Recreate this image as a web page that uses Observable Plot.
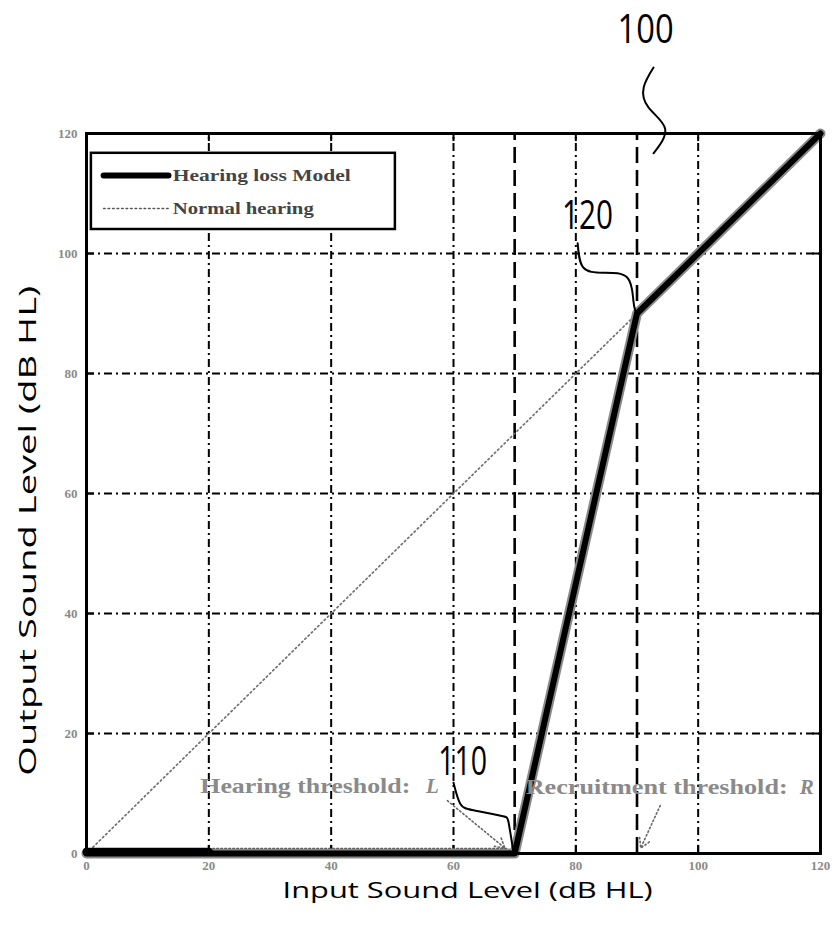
<!DOCTYPE html>
<html>
<head>
<meta charset="utf-8">
<script src="https://cdn.jsdelivr.net/npm/d3@7"></script>
<script src="https://cdn.jsdelivr.net/npm/@observablehq/plot@0.6"></script>
<style>
  html, body { margin: 0; padding: 0; background: white; }
  #chart svg { display: block; }
  #chart g[aria-label="x-axis tick label"] text,
  #chart g[aria-label="y-axis tick label"] text {
    fill: #8a8a8a; font-family: "Liberation Serif", serif; font-weight: bold; font-size: 13px;
  }
</style>
</head>
<body>
<div id="chart"></div>
<script>
// ---- data ----
const xTicks = [0, 20, 40, 60, 80, 100, 120];
const yTicks = [0, 20, 40, 60, 80, 100, 120];
const gridX = [20, 40, 60, 80, 100];
const gridY = [20, 40, 60, 80, 100];
const thresholds = [70, 90];               // L and R

const lossX = [0, 70, 90, 120];            // Hearing loss Model
const lossY = [0, 0, 90, 120];
const normalX = [0, 120];                  // Normal hearing
const normalY = [0, 120];
const floorDotX = [20, 69];                // dotted trace above the floor
const floorDotY = [0.85, 0.85];
const floorThickX = [0, 20];
const floorThickY = [0.3, 0.3];

// leader curves of the reference numerals
const lead100X = [92.7, 91.1, 91.9, 94.6, 92.7];
const lead100Y = [131.0, 127.7, 124.3, 120.8, 116.7];
const lead120X = [80.3, 81.2, 84.5, 88.4, 89.4, 89.8];
const lead120Y = [101.7, 97.7, 96.8, 96.0, 92.2, 90.2];
const lead110X = [60.0, 61.1, 63.3, 67.7, 69.0, 69.8];
const lead110Y = [11.8, 8.3, 7.2, 6.3, 5.2, 0.2];

// threshold annotation arrows
const arrowNames = ["L", "R"];
const arrowX1 = [59.0, 93.8];
const arrowY1 = [8.8, 8.0];
const arrowX2 = [68.4, 90.6];
const arrowY2 = [0.9, 0.9];

// numerals
const numText = ["100", "120", "110"];
const numX = [91.4, 81.9, 61.5];
const numY = [137.2, 106.3, 15.3];

// threshold texts
const thrText = ["Hearing threshold:", "Recruitment threshold:"];
const thrX = [18.6, 71.8];
const thrY = [11.2, 11.0];
const thrVar = ["L", "R"];
const thrVarX = [55.5, 116.6];

// legend
const legendBox = {x1: 0.8, x2: 50.5, y1: 104.0, y2: 116.7};
const legendNames = ["Hearing loss Model", "Normal hearing"];
const legendY = [113.0, 107.5];
const legendLineX = [2.8, 13.4];
const legendTextX = 14.1;

const xLabel = "Input Sound Level (dB HL)";
const yLabel = "Output Sound Level (dB HL)";

// ---- build ----
const pts = (xs, ys) => xs.map((x, i) => ({x, y: ys[i]}));
const loss = pts(lossX, lossY);
const normal = pts(normalX, normalY);
const arrows = arrowNames.map((n, i) => ({n, x1: arrowX1[i], y1: arrowY1[i], x2: arrowX2[i], y2: arrowY2[i]}));
const nums = numText.map((t, i) => ({t, x: numX[i], y: numY[i]}));
const thr = thrText.map((t, i) => ({t, x: thrX[i], y: thrY[i]}));
const thrV = thrVar.map((t, i) => ({t, x: thrVarX[i], y: thrY[i]}));
const legLoss = legendLineX.map(x => ({x, y: legendY[0]}));
const legNorm = legendLineX.map(x => ({x, y: legendY[1]}));
const legText = legendNames.map((t, i) => ({t, x: legendTextX, y: legendY[i]}));

const serif = "Liberation Serif, Times New Roman, serif";
const sans = "Open Sans, Noto Sans, sans-serif";

const chart = Plot.plot({
  width: 839,
  height: 935,
  marginLeft: 86,
  marginRight: 19,
  marginTop: 133,
  marginBottom: 82,
  style: {background: "white", color: "black"},
  x: {domain: [0, 120], label: null},
  y: {domain: [0, 120], label: null},
  marks: [
    // grid
    Plot.ruleX(gridX, {y1: 0, y2: 120, stroke: "black", strokeWidth: 2, strokeDasharray: "8,4,2,4"}),
    Plot.ruleY(gridY, {x1: 0, x2: 120, stroke: "black", strokeWidth: 2, strokeDasharray: "8,4,2,4"}),
    // inner ticks
    Plot.ruleX(xTicks, {y1: 0, y2: 1.35, stroke: "black", strokeWidth: 2}),
    Plot.ruleX(xTicks, {y1: 118.65, y2: 120, stroke: "black", strokeWidth: 2}),
    Plot.ruleY(yTicks, {x1: 0, x2: 1.3, stroke: "black", strokeWidth: 2}),
    Plot.ruleY(yTicks, {x1: 118.7, x2: 120, stroke: "black", strokeWidth: 2}),
    // threshold dashed lines
    Plot.ruleX(thresholds, {y1: 0, y2: 120, stroke: "black", strokeWidth: 2.6, strokeDasharray: "16,7"}),
    // legend box
    Plot.rect([legendBox], {x1: "x1", x2: "x2", y1: "y1", y2: "y2", fill: "white", stroke: "black", strokeWidth: 2.5}),
    Plot.line(legLoss, {x: "x", y: "y", stroke: "black", strokeWidth: 6}),
    Plot.line(legNorm, {x: "x", y: "y", stroke: "#555", strokeWidth: 1.6, strokeDasharray: "1.5,3"}),
    Plot.text(legText, {x: "x", y: "y", text: "t", textAnchor: "start", fill: "#444", fontFamily: serif, fontWeight: "bold", fontSize: 17}),
    // normal hearing
    Plot.line(normal, {x: "x", y: "y", stroke: "#707070", strokeWidth: 1.7, strokeDasharray: "1.5,3"}),
    Plot.line(pts(floorDotX, floorDotY), {x: "x", y: "y", stroke: "#333", strokeWidth: 1.5, strokeDasharray: "1.5,2.5"}),
    // hearing loss model
    Plot.line(loss, {x: "x", y: "y", stroke: "#8a8a8a", strokeWidth: 10}),
    Plot.line(loss, {x: "x", y: "y", stroke: "black", strokeWidth: 6}),
    Plot.line(pts(floorThickX, floorThickY), {x: "x", y: "y", stroke: "black", strokeWidth: 8}),
    // frame
    Plot.frame({stroke: "black", strokeWidth: 3}),
    // axes
    Plot.axisX({ticks: xTicks, tickSize: 0, tickPadding: 7}),
    Plot.axisY({ticks: yTicks, tickSize: 0, tickPadding: 9}),
    // threshold arrows
    Plot.arrow(arrows, {x1: "x1", y1: "y1", x2: "x2", y2: "y2", stroke: "#666", strokeWidth: 1.6, strokeDasharray: "1.5,2.5", headLength: 10, bend: false}),
    // threshold texts
    Plot.text(thr, {x: "x", y: "y", text: "t", textAnchor: "start", fill: "#8a8a8a", fontFamily: serif, fontWeight: "bold", fontSize: 21}),
    Plot.text(thrV, {x: "x", y: "y", text: "t", textAnchor: "start", fill: "#8a8a8a", fontFamily: serif, fontWeight: "bold", fontStyle: "italic", fontSize: 21}),
    // leaders
    Plot.line(pts(lead100X, lead100Y), {x: "x", y: "y", curve: "natural", stroke: "black", strokeWidth: 2}),
    Plot.line(pts(lead120X, lead120Y), {x: "x", y: "y", curve: "natural", stroke: "black", strokeWidth: 2}),
    Plot.line(pts(lead110X, lead110Y), {x: "x", y: "y", curve: "natural", stroke: "black", strokeWidth: 2}),
    // numerals
    Plot.text(nums, {x: "x", y: "y", text: "t", fill: "black", fontFamily: sans, fontSize: 40}),
    // axis labels
    Plot.text([xLabel], {x: 62.3, y: -6.3, text: d => d, fill: "black", fontFamily: sans, fontSize: 21}),
    Plot.text([yLabel], {x: -9.5, y: 53.8, text: d => d, rotate: -90, fill: "black", fontFamily: sans, fontSize: 23})
  ]
});
document.getElementById("chart").appendChild(chart);

// stretch the annotation texts to the widths seen in the reference
const lengths = {
  "100": 56, "110": 49, "120": 51,
  "Hearing loss Model": 178, "Normal hearing": 141,
  "Hearing threshold:": 210, "Recruitment threshold:": 262,
  [xLabel]: 370, [yLabel]: 490
};
chart.querySelectorAll('g[aria-label="text"] text').forEach(t => {
  const s = t.textContent;
  if (lengths[s]) {
    t.setAttribute("textLength", lengths[s]);
    t.setAttribute("lengthAdjust", "spacingAndGlyphs");
  }
});
</script>
</body>
</html>
